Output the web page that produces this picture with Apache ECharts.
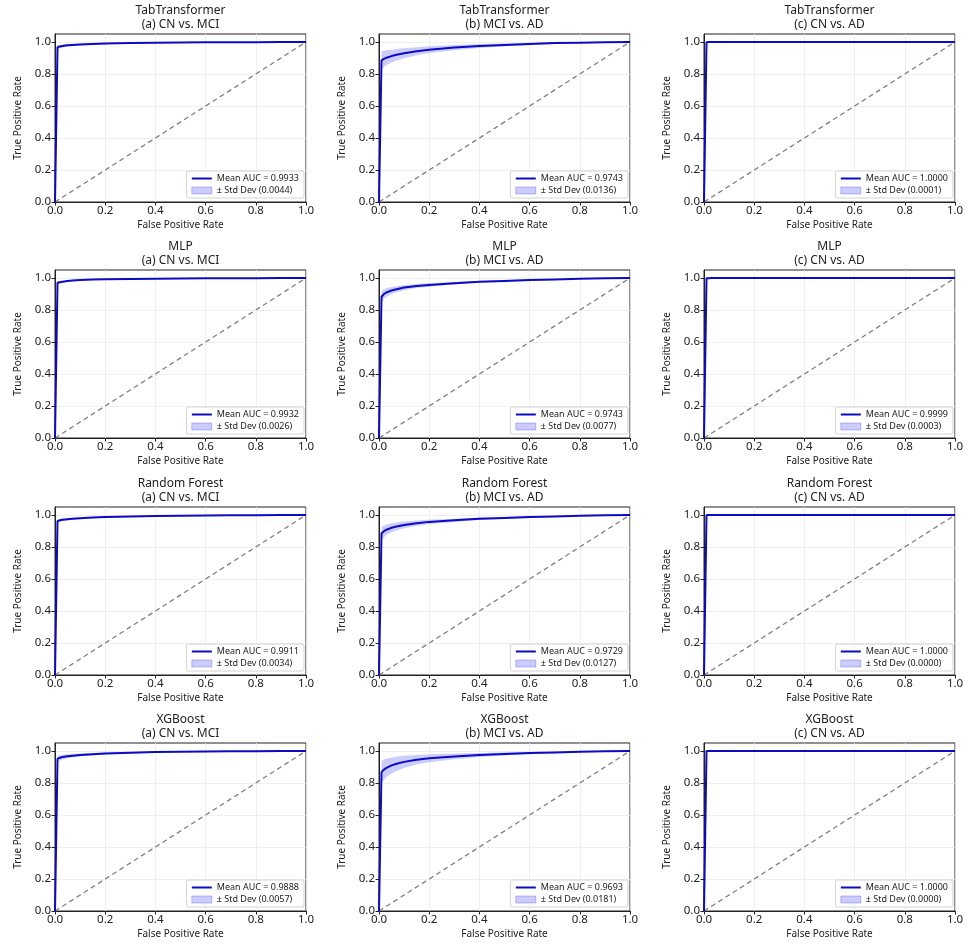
<!DOCTYPE html>
<html>
<head>
    <meta charset="UTF-8">
    <title>ROC curves</title>
    <script src="https://cdn.jsdelivr.net/npm/echarts@6/dist/echarts.min.js"></script>
    <style>
        body { margin: 0; background: #fff; }
        #rocChart { width: 968px; height: 950px; }
    </style>
</head>
<body>
<div id="rocChart"></div>
<script type="text/javascript">
    // shared false positive rate grid
    var fpr = [0, 0.01, 0.02, 0.03, 0.05, 0.07, 0.1, 0.15, 0.2, 0.3, 0.4, 0.5, 0.6, 0.7, 0.8, 0.9, 1.0];

    // TabTransformer
    var tabMeanA = [0, 0.968, 0.972, 0.975, 0.979, 0.982, 0.985, 0.988, 0.990, 0.993, 0.995, 0.997, 0.998, 0.999, 0.999, 1.0, 1.0];
    var tabStdA  = [0, 0.012, 0.011, 0.010, 0.008, 0.007, 0.006, 0.005, 0.004, 0.003, 0.003, 0.002, 0.002, 0.001, 0.001, 0.0005, 0];
    var tabMeanB = [0, 0.885, 0.895, 0.902, 0.912, 0.920, 0.930, 0.942, 0.952, 0.965, 0.975, 0.982, 0.988, 0.993, 0.996, 0.998, 1.0];
    var tabStdB  = [0, 0.055, 0.050, 0.046, 0.040, 0.036, 0.031, 0.025, 0.021, 0.016, 0.012, 0.009, 0.007, 0.005, 0.003, 0.002, 0];
    var tabMeanC = [0, 0.999, 1.0, 1.0, 1.0, 1.0, 1.0, 1.0, 1.0, 1.0, 1.0, 1.0, 1.0, 1.0, 1.0, 1.0, 1.0];
    var tabStdC  = [0, 0.002, 0.001, 0, 0, 0, 0, 0, 0, 0, 0, 0, 0, 0, 0, 0, 0];

    // MLP
    var mlpMeanA = [0, 0.970, 0.974, 0.977, 0.981, 0.984, 0.987, 0.990, 0.992, 0.994, 0.996, 0.997, 0.998, 0.999, 0.999, 1.0, 1.0];
    var mlpStdA  = [0, 0.008, 0.007, 0.006, 0.005, 0.004, 0.004, 0.003, 0.003, 0.002, 0.002, 0.001, 0.001, 0.001, 0.0005, 0.0003, 0];
    var mlpMeanB = [0, 0.883, 0.900, 0.910, 0.922, 0.930, 0.940, 0.950, 0.957, 0.967, 0.976, 0.982, 0.987, 0.991, 0.995, 0.998, 1.0];
    var mlpStdB  = [0, 0.035, 0.030, 0.027, 0.022, 0.019, 0.016, 0.013, 0.011, 0.008, 0.006, 0.005, 0.004, 0.003, 0.002, 0.001, 0];
    var mlpMeanC = [0, 0.998, 0.999, 1.0, 1.0, 1.0, 1.0, 1.0, 1.0, 1.0, 1.0, 1.0, 1.0, 1.0, 1.0, 1.0, 1.0];
    var mlpStdC  = [0, 0.003, 0.002, 0.001, 0, 0, 0, 0, 0, 0, 0, 0, 0, 0, 0, 0, 0];

    // Random Forest
    var rfMeanA = [0, 0.962, 0.967, 0.970, 0.974, 0.977, 0.980, 0.984, 0.987, 0.991, 0.994, 0.996, 0.997, 0.998, 0.999, 1.0, 1.0];
    var rfStdA  = [0, 0.010, 0.009, 0.008, 0.007, 0.006, 0.005, 0.004, 0.004, 0.003, 0.002, 0.002, 0.001, 0.001, 0.001, 0.0005, 0];
    var rfMeanB = [0, 0.886, 0.899, 0.908, 0.920, 0.928, 0.938, 0.949, 0.957, 0.967, 0.976, 0.982, 0.987, 0.991, 0.995, 0.998, 1.0];
    var rfStdB  = [0, 0.040, 0.036, 0.033, 0.028, 0.025, 0.021, 0.017, 0.014, 0.010, 0.008, 0.006, 0.005, 0.004, 0.003, 0.002, 0];
    var rfMeanC = [0, 1.0, 1.0, 1.0, 1.0, 1.0, 1.0, 1.0, 1.0, 1.0, 1.0, 1.0, 1.0, 1.0, 1.0, 1.0, 1.0];
    var rfStdC  = [0, 0, 0, 0, 0, 0, 0, 0, 0, 0, 0, 0, 0, 0, 0, 0, 0];

    // XGBoost
    var xgbMeanA = [0, 0.952, 0.958, 0.962, 0.967, 0.971, 0.975, 0.980, 0.984, 0.989, 0.993, 0.995, 0.997, 0.998, 0.999, 1.0, 1.0];
    var xgbStdA  = [0, 0.018, 0.016, 0.015, 0.012, 0.011, 0.009, 0.007, 0.006, 0.004, 0.003, 0.002, 0.002, 0.001, 0.001, 0.0005, 0];
    var xgbMeanB = [0, 0.868, 0.884, 0.895, 0.910, 0.920, 0.932, 0.945, 0.955, 0.966, 0.975, 0.982, 0.987, 0.991, 0.995, 0.998, 1.0];
    var xgbStdB  = [0, 0.070, 0.063, 0.058, 0.050, 0.045, 0.038, 0.030, 0.025, 0.018, 0.013, 0.010, 0.007, 0.005, 0.004, 0.002, 0];
    var xgbMeanC = [0, 1.0, 1.0, 1.0, 1.0, 1.0, 1.0, 1.0, 1.0, 1.0, 1.0, 1.0, 1.0, 1.0, 1.0, 1.0, 1.0];
    var xgbStdC  = [0, 0, 0, 0, 0, 0, 0, 0, 0, 0, 0, 0, 0, 0, 0, 0, 0];

    var models = ['TabTransformer', 'MLP', 'Random Forest', 'XGBoost'];
    var tasks = ['(a) CN vs. MCI', '(b) MCI vs. AD', '(c) CN vs. AD'];
    var meanAuc = [[0.9933, 0.9743, 1.0000], [0.9932, 0.9743, 0.9999], [0.9911, 0.9729, 1.0000], [0.9888, 0.9693, 1.0000]];
    var stdAuc = [[0.0044, 0.0136, 0.0001], [0.0026, 0.0077, 0.0003], [0.0034, 0.0127, 0.0000], [0.0057, 0.0181, 0.0000]];
    var tickValues = [0, 0.2, 0.4, 0.6, 0.8, 1.0];
    var chanceLine = [[0, 0], [1, 1]];

    var meanTpr = [[tabMeanA, tabMeanB, tabMeanC], [mlpMeanA, mlpMeanB, mlpMeanC], [rfMeanA, rfMeanB, rfMeanC], [xgbMeanA, xgbMeanB, xgbMeanC]];
    var stdTpr = [[tabStdA, tabStdB, tabStdC], [mlpStdA, mlpStdB, mlpStdC], [rfStdA, rfStdB, rfStdC], [xgbStdA, xgbStdB, xgbStdC]];

    var font = 'Noto Sans';
    var textColor = '#222';
    var lineColor = '#0b0bc4';
    var bandColor = 'rgba(0,0,255,0.2)';

    var colLeft = [55, 379, 704];
    var rowTop = [34, 270, 507, 743];
    var plotW = 251, plotH = 168;

    function bandRenderer(mean, std) {/*one polygon between mean-std and mean+std*/
        return function (params, api) {
            if (params.dataIndex !== 0) return null;
            var upper = [], lower = [];
            for (var j = 0; j < fpr.length; j++) {
                upper.push(api.coord([fpr[j], Math.min(mean[j] + std[j], 1)]));
                lower.unshift(api.coord([fpr[j], Math.max(mean[j] - std[j], 0)]));
            }
            return {
                type: 'polygon',
                shape: {points: upper.concat(lower)},
                style: {fill: bandColor}
            };
        };
    }

    var grids = [], xAxes = [], yAxes = [], titles = [], legends = [], series = [];

    for (var r = 0; r < 4; r++) {
        for (var c = 0; c < 3; c++) {
            var k = r * 3 + c;
            var mean = meanTpr[r][c], std = stdTpr[r][c];
            var meanName = 'Mean AUC = ' + meanAuc[r][c].toFixed(4);
            var stdName = '\u00b1 Std Dev (' + stdAuc[r][c].toFixed(4) + ')';

            grids.push({
                left: colLeft[c], top: rowTop[r], width: plotW, height: plotH,
                show: true, borderColor: '#222', borderWidth: 1, backgroundColor: 'transparent'
            });

            titles.push({
                text: models[r] + '\n' + tasks[c],
                left: colLeft[c] + plotW / 2,
                top: rowTop[r] - 30,
                textAlign: 'center',
                padding: 0,
                textStyle: {fontFamily: font, fontSize: 12, fontWeight: 'normal', color: textColor, lineHeight: 13.5}
            });

            xAxes.push({
                gridIndex: k, type: 'value', min: 0, max: 1, interval: 0.2,
                name: 'False Positive Rate', nameLocation: 'middle', nameGap: 18,
                nameTextStyle: {fontFamily: font, fontSize: 10, color: textColor},
                axisLine: {show: true, onZero: false, lineStyle: {color: '#222', width: 1}},
                axisTick: {show: true, length: 3.5, lineStyle: {color: '#222'}},
                axisLabel: {fontFamily: font, fontSize: 11.5, color: textColor, margin: 3,
                    formatter: function (v) { return v.toFixed(1); }},
                splitLine: {show: true, lineStyle: {color: '#ebebeb', width: 0.8}}
            });

            yAxes.push({
                gridIndex: k, type: 'value', min: 0, max: 1.05, interval: 0.2,
                name: 'True Positive Rate', nameLocation: 'middle', nameGap: 32,
                nameTextStyle: {fontFamily: font, fontSize: 10, color: textColor},
                axisLine: {show: true, onZero: false, lineStyle: {color: '#222', width: 1}},
                axisTick: {show: true, length: 3.5, lineStyle: {color: '#222'}, customValues: tickValues},
                axisLabel: {fontFamily: font, fontSize: 11.5, color: textColor, margin: 4, customValues: tickValues,
                    formatter: function (v) { return Math.abs(v * 5 - Math.round(v * 5)) < 1e-6 ? v.toFixed(1) : ''; }},
                splitLine: {show: true, lineStyle: {color: '#ebebeb', width: 0.8}}
            });

            legends.push({
                orient: 'vertical',
                right: 968 - (colLeft[c] + plotW - 2),
                bottom: 950 - (rowTop[r] + plotH - 4),
                backgroundColor: '#fff', borderColor: '#d4d4d4', borderWidth: 1, borderRadius: 2,
                padding: [3, 5, 3, 5], itemGap: 3, itemWidth: 20, itemHeight: 7,
                selectedMode: false,
                textStyle: {fontFamily: font, fontSize: 9, color: textColor},
                data: [
                    {name: meanName, icon: 'path://M0,0H20V2H0Z', itemStyle: {color: lineColor}},
                    {name: stdName, icon: 'rect', itemStyle: {color: bandColor, borderColor: 'rgba(0,0,255,0.3)', borderWidth: 0.8}}
                ]
            });

            // chance diagonal
            series.push({
                type: 'line', xAxisIndex: k, yAxisIndex: k, data: chanceLine,
                symbol: 'none', silent: true, z: 1,
                lineStyle: {color: '#808080', width: 1.3, type: [5, 3.5]}
            });
            // std band
            series.push({
                type: 'custom', name: stdName, xAxisIndex: k, yAxisIndex: k, z: 2,
                renderItem: bandRenderer(mean, std),
                data: fpr.map(function (x, j) { return [x, Math.max(mean[j] - std[j], 0), Math.min(mean[j] + std[j], 1)]; }),
                encode: {x: 0, y: [1, 2]},
                itemStyle: {color: bandColor},
                silent: true
            });
            // mean ROC
            series.push({
                type: 'line', name: meanName, xAxisIndex: k, yAxisIndex: k, z: 3,
                data: fpr.map(function (x, j) { return [x, mean[j]]; }),
                symbol: 'none', showSymbol: false, silent: true,
                itemStyle: {color: lineColor},
                lineStyle: {color: lineColor, width: 2}
            });
        }
    }

    var rocChart = echarts.init(document.getElementById('rocChart'));
    rocChart.setOption({
        backgroundColor: '#fff',
        animation: false,
        title: titles,
        legend: legends,
        grid: grids,
        xAxis: xAxes,
        yAxis: yAxes,
        series: series
    });
</script>
</body>
</html>
